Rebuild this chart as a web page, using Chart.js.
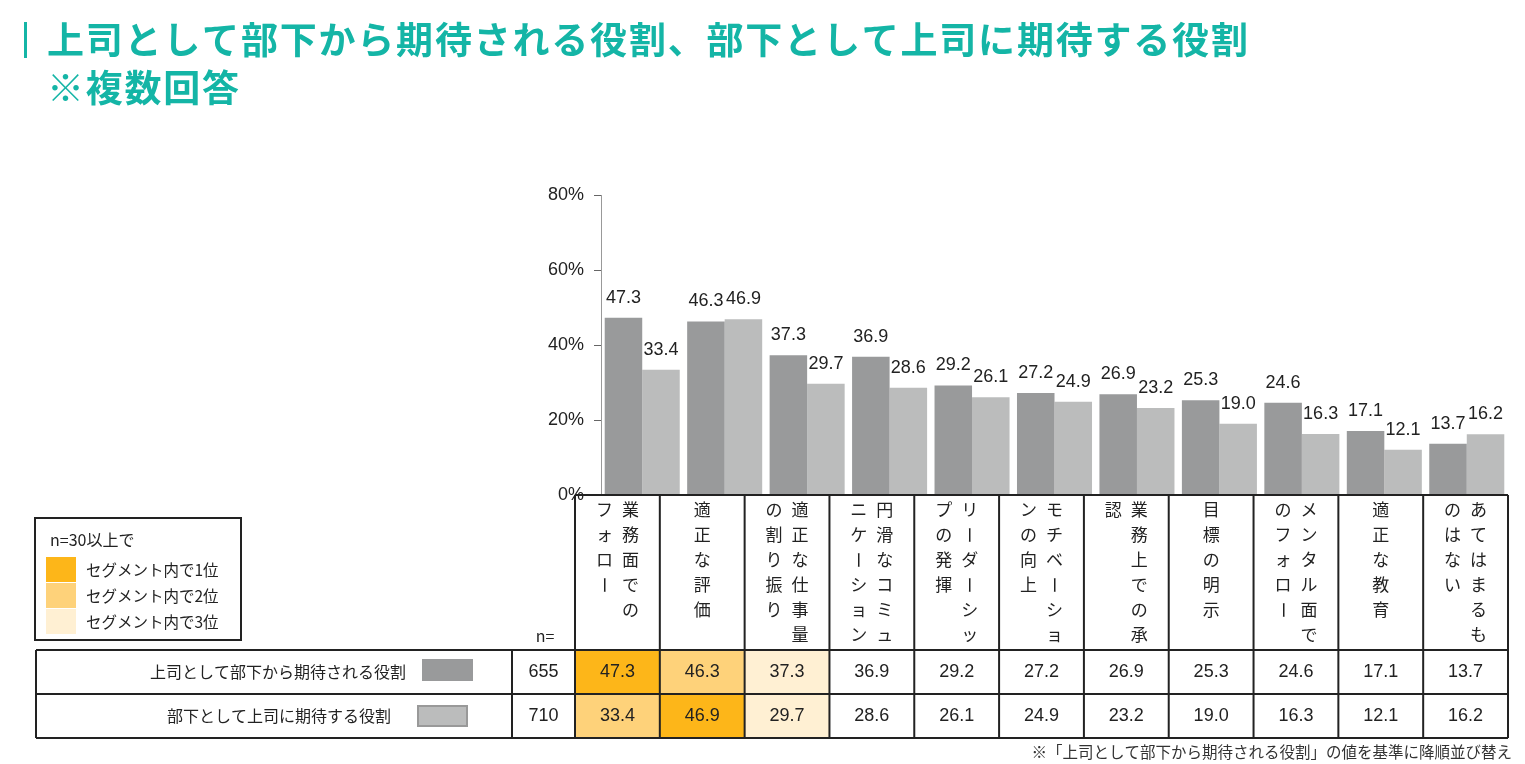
<!DOCTYPE html>
<html>
<head>
<meta charset="utf-8">
<script src="https://cdn.jsdelivr.net/npm/chart.js@4.4.1/dist/chart.umd.min.js"></script>
<style>
  body { margin: 0; background: #fff; }
  canvas { display: block; }
</style>
</head>
<body>
<canvas id="roleChart" width="1525" height="764"></canvas>
<script>
// categories (full names) and how they wrap into vertical columns, right column first
const categories = [
    '業務面でのフォロー', '適正な評価', '適正な仕事量の割り振り', '円滑なコミュニケーション',
    'リーダーシップの発揮', 'モチベーションの向上', '業務上での承認', '目標の明示',
    'メンタル面でのフォロー', '適正な教育', 'あてはまるものはない'
];
const categoryColumns = [
    ['業務面での', 'フォロー'], ['適正な評価'], ['適正な仕事量', 'の割り振り'], ['円滑なコミュ', 'ニケーション'],
    ['リーダーシッ', 'プの発揮'], ['モチベーショ', 'ンの向上'], ['業務上での承', '認'], ['目標の明示'],
    ['メンタル面で', 'のフォロー'], ['適正な教育'], ['あてはまるも', 'のはない']
];
const seriesNames = ['上司として部下から期待される役割', '部下として上司に期待する役割'];
const sampleSizes = [655, 710];
const bossExpects = [47.3, 46.3, 37.3, 36.9, 29.2, 27.2, 26.9, 25.3, 24.6, 17.1, 13.7];
const subordinateExpects = [33.4, 46.9, 29.7, 28.6, 26.1, 24.9, 23.2, 19.0, 16.3, 12.1, 16.2];
const rankLabels = ['セグメント内で1位', 'セグメント内で2位', 'セグメント内で3位'];
const titleLines = ['上司として部下から期待される役割、部下として上司に期待する役割', '※複数回答'];
const footnote = '※「上司として部下から期待される役割」の値を基準に降順並び替え';

const TEAL = '#14b5a6';
const BAR_DARK = '#999a9b';
const BAR_LIGHT = '#bbbcbc';
const RANK_COLORS = ['#fdb619', '#fed27a', '#fff0d3'];
const JP = '"Noto Sans CJK JP", sans-serif';
const NUM = '"Liberation Sans", Arial, sans-serif';

// table geometry
const tbl = { left: 36, labelRight: 512, nRight: 575, right: 1508, axisY: 495, top: 650, mid: 694, bottom: 738 };

// top three values of a row -> rank index per cell
const rankOf = (values) => {
    const sorted = [...values].sort((a, b) => b - a);
    return values.map((v) => { const r = sorted.indexOf(v); return r < 3 ? r : -1; });
};

const text = (ctx, s, x, y, font, color, align) => {
    ctx.font = font;
    ctx.fillStyle = color;
    ctx.textAlign = align || 'left';
    ctx.textBaseline = 'middle';
    ctx.fillText(s, x, y);
};

const overlay = {
    id: 'overlay',
    beforeDraw(chart) {
        const ctx = chart.ctx;
        ctx.save();
        ctx.fillStyle = '#fff';
        ctx.fillRect(0, 0, chart.width, chart.height);
        ctx.restore();
    },
    afterDraw(chart) {
        const ctx = chart.ctx;
        ctx.save();

        // title
        ctx.fillStyle = TEAL;
        ctx.fillRect(24, 22, 3, 36);
        titleLines.forEach((line, li) => {
            [...line].forEach((ch, i) => {
                text(ctx, ch, 46 + i * 38.8 + 19.4, li === 0 ? 40 : 88, 'bold 37px ' + JP, TEAL, 'center');
            });
        });

        // value labels above the bars
        chart.data.datasets.forEach((ds, di) => {
            chart.getDatasetMeta(di).data.forEach((el, i) => {
                text(ctx, ds.data[i].toFixed(1), el.x, el.y - 20, '18px ' + NUM, '#222', 'center');
            });
        });

        // legend box
        ctx.strokeStyle = '#222';
        ctx.lineWidth = 2;
        ctx.strokeRect(35, 518, 206, 122);
        text(ctx, 'n=30以上で', 50, 540, '16px ' + JP, '#222');
        rankLabels.forEach((lab, r) => {
            ctx.fillStyle = RANK_COLORS[r];
            ctx.fillRect(46, 557 + r * 26, 30, 25);
            text(ctx, lab, 86, 570 + r * 26, '15.5px ' + JP, '#222');
        });
        text(ctx, 'n=', 545, 636, '16px ' + JP, '#222', 'center');

        const colW = (tbl.right - tbl.nRight) / categories.length;
        const rows = [bossExpects, subordinateExpects];
        const rowY = [tbl.top, tbl.mid, tbl.bottom];

        // rank-coloured cells
        rows.forEach((vals, ri) => {
            rankOf(vals).forEach((r, i) => {
                if (r < 0) return;
                ctx.fillStyle = RANK_COLORS[r];
                ctx.fillRect(tbl.nRight + i * colW, rowY[ri], colW, rowY[ri + 1] - rowY[ri]);
            });
        });

        // grid lines
        ctx.strokeStyle = '#222';
        ctx.lineWidth = 2;
        ctx.beginPath();
        ctx.moveTo(tbl.nRight, tbl.axisY); ctx.lineTo(tbl.right, tbl.axisY);
        [tbl.top, tbl.mid, tbl.bottom].forEach((y) => { ctx.moveTo(tbl.left, y); ctx.lineTo(tbl.right, y); });
        ctx.moveTo(tbl.left, tbl.top); ctx.lineTo(tbl.left, tbl.bottom);
        ctx.moveTo(tbl.labelRight, tbl.top); ctx.lineTo(tbl.labelRight, tbl.bottom);
        for (let i = 0; i <= categories.length; i++) {
            const x = tbl.nRight + i * colW;
            ctx.moveTo(x, tbl.axisY); ctx.lineTo(x, tbl.bottom);
        }
        ctx.stroke();

        // vertical category labels
        categoryColumns.forEach((cols, i) => {
            const cx = tbl.nRight + colW * (i + 0.5);
            cols.forEach((col, j) => {
                const x = cx + (cols.length - 1) * 13 - j * 26;
                [...col].forEach((ch, k) => {
                    const y = 510 + k * 25;
                    if (ch === 'ー') {
                        ctx.save();
                        ctx.translate(x, y);
                        ctx.rotate(Math.PI / 2);
                        text(ctx, ch, 0, 0, '17px ' + JP, '#222', 'center');
                        ctx.restore();
                    } else {
                        text(ctx, ch, x, y, '17px ' + JP, '#222', 'center');
                    }
                });
            });
        });

        // row headers, swatches, n and values
        const swatch = [[422, 659, BAR_DARK, null], [417, 705, BAR_LIGHT, '#999']];
        const labelRight = [406, 391];
        rows.forEach((vals, ri) => {
            const cy = (rowY[ri] + rowY[ri + 1]) / 2;
            text(ctx, seriesNames[ri], labelRight[ri], cy, '16px ' + JP, '#222', 'right');
            const [sx, sy, fill, border] = swatch[ri];
            ctx.fillStyle = fill;
            ctx.fillRect(sx, sy, 51, 22);
            if (border) {
                ctx.strokeStyle = border;
                ctx.lineWidth = 2;
                ctx.strokeRect(sx + 1, sy + 1, 49, 20);
            }
            text(ctx, String(sampleSizes[ri]), (tbl.labelRight + tbl.nRight) / 2, cy, '18px ' + NUM, '#222', 'center');
            vals.forEach((v, i) => {
                text(ctx, v.toFixed(1), tbl.nRight + colW * (i + 0.5), cy, '18px ' + NUM, '#222', 'center');
            });
        });

        text(ctx, footnote, 1512, 752, '15.5px ' + JP, '#333', 'right');
        ctx.restore();
    }
};

new Chart(document.getElementById('roleChart'), {
    type: 'bar',
    data: {
        labels: categories,
        datasets: [
            { label: seriesNames[0], data: bossExpects, backgroundColor: BAR_DARK },
            { label: seriesNames[1], data: subordinateExpects, backgroundColor: BAR_LIGHT }
        ]
    },
    options: {
        responsive: false,
        devicePixelRatio: 1,
        animation: false,
        events: [],
        layout: { padding: { left: 531, right: 17, top: 195, bottom: 269 } },
        datasets: { bar: { categoryPercentage: 0.91, barPercentage: 1.0 } },
        plugins: { legend: { display: false }, tooltip: { enabled: false } },
        scales: {
            x: { display: false },
            y: {
                min: 0,
                max: 80,
                afterFit: (scale) => { scale.width = 70; },
                border: { color: '#999', width: 1 },
                grid: { drawOnChartArea: false, tickLength: 7, color: '#666' },
                ticks: {
                    stepSize: 20,
                    padding: 10,
                    color: '#222',
                    font: { family: '"Liberation Sans", Arial, sans-serif', size: 18 },
                    callback: (v) => v + '%'
                }
            }
        }
    },
    plugins: [overlay]
});
</script>
</body>
</html>
